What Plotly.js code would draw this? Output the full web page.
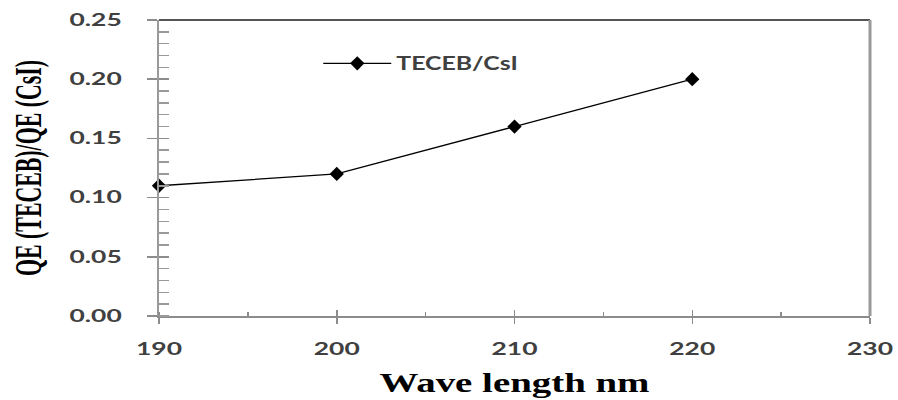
<!DOCTYPE html>
<html>
<head>
<meta charset="utf-8">
<script src="https://cdn.plot.ly/plotly-3.0.1.min.js"></script>
<style>
html,body{margin:0;padding:0;background:#fff;}
#chart{width:898px;height:400px;}
</style>
</head>
<body>
<div id="chart"></div>
<script>
// ---- data ----
var wavelength = [190, 200, 210, 220];
var qeRatio = [0.11, 0.12, 0.16, 0.20];
var seriesName = 'TECEB/CsI';
var xTitle = 'Wave length nm';
var yTitle = 'QE (TECEB)/QE (CsI)';
var xRange = [190, 230];
var yRange = [0, 0.25];

var tickFont = {family: 'Lato, "Open Sans", sans-serif', size: 16.5, color: '#404040', weight: 'bold'};

var data = [
  {
    x: wavelength, y: qeRatio, name: seriesName,
    type: 'scatter', mode: 'lines+markers', cliponaxis: false,
    line: {color: '#000', width: 1.3},
    marker: {symbol: 'diamond', size: 11, color: '#000'},
    xaxis: 'x', yaxis: 'y'
  },
  {x: [], y: [], xaxis: 'x2', yaxis: 'y2', showlegend: false, hoverinfo: 'skip', type: 'scatter'}
];

var layout = {
  width: 898, height: 400,
  paper_bgcolor: '#fff', plot_bgcolor: '#fff',
  margin: {l: 159, r: 28, t: 19.5, b: 84},
  showlegend: true,
  legend: {
    x: 0.224, y: 0.915, xanchor: 'left', yanchor: 'top',
    bgcolor: 'rgba(0,0,0,0)', itemwidth: 68,
    font: {family: 'Lato, "Open Sans", sans-serif', size: 18, color: '#404040', weight: 'bold'}
  },
  xaxis: {
    range: xRange, tick0: 190, dtick: 10,
    showgrid: false, zeroline: false,
    showline: true, linecolor: '#8c8c8c', linewidth: 1.5,
    ticks: 'outside', ticklen: 6, tickwidth: 1.5, tickcolor: '#8c8c8c',
    minor: {ticks: 'inside', dtick: 5, ticklen: 4, tickwidth: 1.5, tickcolor: '#8c8c8c'},
    tickfont: tickFont,
    ticklabelstandoff: 12,
    title: {text: xTitle, font: {family: '"Liberation Serif", "Times New Roman", serif', size: 27, color: '#000', weight: 'bold'}, standoff: 15}
  },
  xaxis2: {
    range: xRange, overlaying: 'x', anchor: 'y', side: 'bottom', tick0: 190, dtick: 10,
    showgrid: false, zeroline: false, showline: false,
    ticks: 'inside', ticklen: 6, tickwidth: 1.5, tickcolor: '#8c8c8c', showticklabels: false
  },
  yaxis: {
    range: yRange, tick0: 0, dtick: 0.05, tickformat: '.2f',
    showgrid: false, zeroline: false,
    showline: true, linecolor: '#9a9a9a', linewidth: 2,
    ticks: 'outside', ticklen: 10, tickwidth: 1.5, tickcolor: '#8c8c8c',
    minor: {ticks: 'inside', dtick: 0.01, ticklen: 10, tickwidth: 1.5, tickcolor: '#9a9a9a'},
    tickfont: tickFont,
    ticklabelstandoff: 22,
    title: {text: yTitle, font: {family: '"Liberation Serif", "Times New Roman", serif', size: 37, color: '#000', weight: 'bold'}, standoff: 36}
  },
  yaxis2: {
    range: yRange, overlaying: 'y', anchor: 'x', side: 'left', tick0: 0, dtick: 0.05,
    showgrid: false, zeroline: false, showline: false,
    ticks: 'inside', ticklen: 10, tickwidth: 1.5, tickcolor: '#8c8c8c', showticklabels: false
  },
  shapes: [
    {type: 'line', xref: 'paper', yref: 'paper', x0: 0, x1: 1, y0: 1, y1: 1, line: {color: '#555', width: 2}},
    {type: 'line', xref: 'paper', yref: 'paper', x0: 1, x1: 1, y0: 0, y1: 1, line: {color: '#999', width: 3}}
  ]
};

function stretch(sel, f) {
  document.querySelectorAll(sel).forEach(function (t) {
    var w = t.getComputedTextLength();
    if (w > 0) {
      t.setAttribute('textLength', (w * f).toFixed(1));
      t.setAttribute('lengthAdjust', 'spacingAndGlyphs');
    }
  });
}

Plotly.newPlot('chart', data, layout, {staticPlot: true, displayModeBar: false}).then(function () {
  stretch('.xtick text, .ytick text', 1.6);
  stretch('.legendtext', 1.38);
  stretch('.g-xtitle text', 1.44);
  stretch('.g-ytitle text', 0.59);
  document.querySelectorAll('.legend [clip-path]').forEach(function (el) { el.removeAttribute('clip-path'); });
});
</script>
</body>
</html>
